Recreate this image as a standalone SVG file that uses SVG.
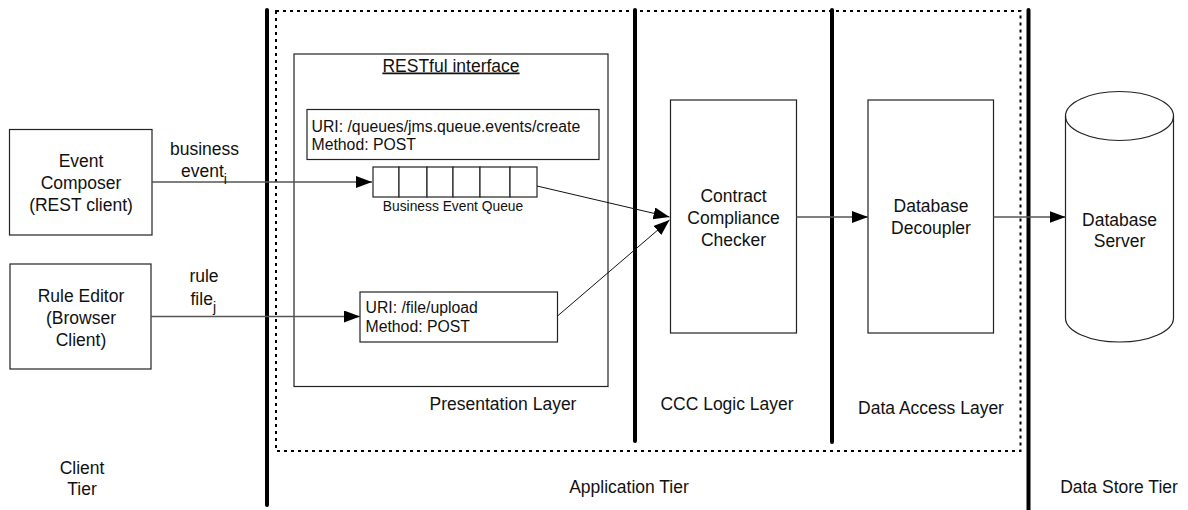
<svg xmlns="http://www.w3.org/2000/svg" width="1188" height="510" viewBox="0 0 1188 510">
  <style>
    text { font-family: "Liberation Sans", Arial, Helvetica, sans-serif; fill: #111; }
    .lbl { font-size: 17.5px; }
    .mid { text-anchor: middle; }
    .uri { font-size: 15.8px; }
    .small { font-size: 13.8px; }
    .sub { font-size: 14px; }
    .box { fill: #fff; stroke: #222; stroke-width: 1.2; }
    .cell { fill: #fff; stroke: #222; stroke-width: 1.2; }
    .tier { stroke: #000; stroke-width: 4; stroke-linecap: round; fill: none; }
    .app { fill: none; stroke: #000; stroke-width: 2; stroke-dasharray: 3 4; }
    .flow { fill: none; stroke: #555; stroke-width: 1.3; marker-end: url(#arrow); }
    .diag { fill: none; stroke: #111; stroke-width: 1; marker-end: url(#arrow); }
  </style>
  <defs>
    <marker id="arrow" markerUnits="userSpaceOnUse" markerWidth="17" markerHeight="13" refX="16" refY="6" orient="auto">
      <path d="M0,0 L16,6 L0,12 z" fill="#000"/>
    </marker>
  </defs>

  <rect width="1188" height="510" fill="#fff"/>

  <!-- application tier boundary and tier / layer separators -->
  <g id="tiers">
    <rect class="app" x="276" y="11" width="744.5" height="440"/>
    <line class="tier" x1="267" y1="10" x2="267" y2="505"/>
    <line class="tier" x1="635" y1="10" x2="635" y2="441"/>
    <line class="tier" x1="832" y1="10" x2="832" y2="442"/>
    <line class="tier" x1="1028.5" y1="10" x2="1028.5" y2="510"/>
  </g>

  <!-- tier and layer captions -->
  <g id="captions" class="lbl">
    <text class="mid" x="82" y="474">Client</text>
    <text class="mid" x="82" y="495">Tier</text>
    <text class="mid" x="629" y="493">Application Tier</text>
    <text class="mid" x="1119" y="493">Data Store Tier</text>
    <text class="mid" x="503" y="410">Presentation Layer</text>
    <text class="mid" x="727" y="410">CCC Logic Layer</text>
    <text class="mid" x="931" y="414">Data Access Layer</text>
  </g>

  <g id="event-composer">
    <rect class="box" x="9.5" y="129.5" width="142.5" height="105.5"/>
    <text class="lbl mid" x="81" y="166.5">Event</text>
    <text class="lbl mid" x="81" y="188.5">Composer</text>
    <text class="lbl mid" x="81" y="210.5">(REST client)</text>
  </g>

  <g id="rule-editor">
    <rect class="box" x="10" y="264" width="141" height="105"/>
    <text class="lbl mid" x="81" y="302">Rule Editor</text>
    <text class="lbl mid" x="81" y="324">(Browser</text>
    <text class="lbl mid" x="81" y="346">Client)</text>
  </g>

  <g id="restful-interface">
    <rect class="box" x="294" y="54" width="314" height="332.5"/>
    <text class="lbl mid" x="451" y="71.5" text-decoration="underline">RESTful interface</text>
  </g>

  <g id="uri-events">
    <rect class="box" x="307" y="109.5" width="292" height="50"/>
    <text class="uri" x="311.5" y="131.5">URI: /queues/jms.queue.events/create</text>
    <text class="uri" x="311.5" y="150">Method: POST</text>
  </g>

  <g id="business-event-queue">
    <rect class="cell" x="373" y="167" width="26" height="30"/>
    <rect class="cell" x="399" y="167" width="28" height="30"/>
    <rect class="cell" x="427" y="167" width="26" height="30"/>
    <rect class="cell" x="453" y="167" width="27" height="30"/>
    <rect class="cell" x="480" y="167" width="30" height="30"/>
    <rect class="cell" x="510" y="167" width="27" height="30"/>
    <text class="small mid" x="453" y="211">Business Event Queue</text>
  </g>

  <g id="uri-upload">
    <rect class="box" x="360" y="292" width="197.5" height="50"/>
    <text class="uri" x="365.5" y="312.5">URI: /file/upload</text>
    <text class="uri" x="365.5" y="331.5">Method: POST</text>
  </g>

  <g id="compliance-checker">
    <rect class="box" x="670.5" y="100" width="126" height="233"/>
    <text class="lbl mid" x="733.5" y="202">Contract</text>
    <text class="lbl mid" x="733.5" y="224">Compliance</text>
    <text class="lbl mid" x="733.5" y="246">Checker</text>
  </g>

  <g id="database-decoupler">
    <rect class="box" x="868" y="100" width="125.5" height="233"/>
    <text class="lbl mid" x="931" y="212">Database</text>
    <text class="lbl mid" x="931" y="234">Decoupler</text>
  </g>

  <g id="database-server">
    <path class="box" d="M1065.5,116 L1065.5,318 A54,24 0 0 0 1173.5,318 L1173.5,116 A54,24.5 0 0 0 1065.5,116 Z"/>
    <path d="M1065.5,116 A54,24.5 0 0 0 1173.5,116" fill="none" stroke="#222" stroke-width="1.2"/>
    <text class="lbl mid" x="1119.5" y="226">Database</text>
    <text class="lbl mid" x="1119.5" y="247">Server</text>
  </g>

  <!-- connectors -->
  <g id="connectors">
    <path class="flow" d="M152,182 L372,182"/>
    <path class="flow" d="M151,316.5 L360,316.5"/>
    <path class="diag" d="M537,186 L669.5,217"/>
    <path class="diag" d="M557.5,316 L669.5,220"/>
    <path class="flow" d="M796.5,217 L868,217"/>
    <path class="flow" d="M993.5,217 L1065.5,217"/>
  </g>

  <!-- connector labels -->
  <g id="connector-labels" class="lbl">
    <text class="mid" x="204.5" y="155">business</text>
    <text x="181" y="177">event<tspan class="sub" dy="7">i</tspan></text>
    <text class="mid" x="204" y="282">rule</text>
    <text x="190.5" y="305">file<tspan class="sub" dy="7">j</tspan></text>
  </g>
</svg>
